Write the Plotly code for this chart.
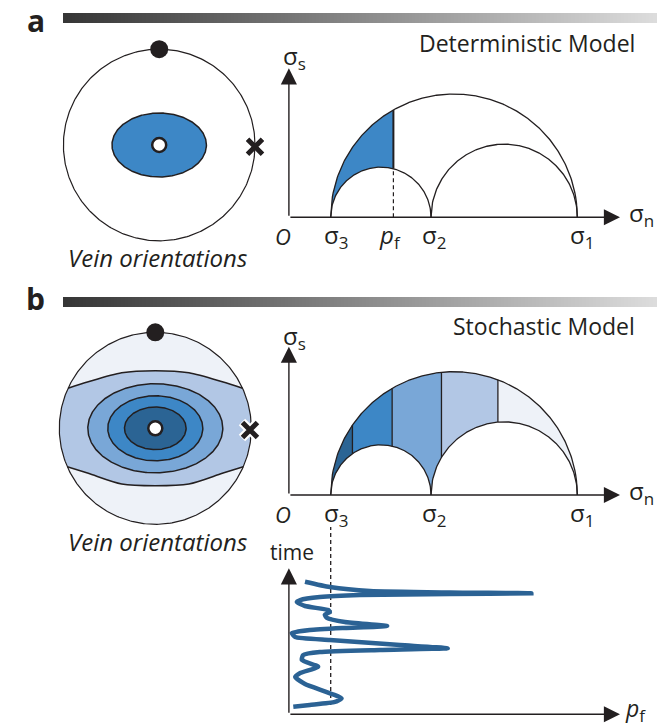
import numpy as np
import plotly.graph_objects as go

W, H = 657, 726
INK = "#231f20"
FONT = "Open Sans"

# ---------------- data ----------------
# principal stresses (arbitrary stress units) and deterministic fluid pressure
SIGMA3, SIGMA2, SIGMA1 = 1.0, 3.4, 6.9
PF_DET = 2.5
# stochastic model: pf bins on the Mohr diagram and their colours
PF_BIN_EDGES = [1.0, 1.52, 2.47, 3.65, 5.0, 6.9]
PF_BIN_COLORS = ["#2b6494", "#3d87c6", "#79a7d7", "#b2c7e5", "#eef2f8"]
# fluid-pressure history (pf in stress units, time in arbitrary units)
PF_SERIES = [0.385, 0.98, 1.94, 3.85, 5.80, 3.85, 1.70, 0.74, 0.27, 0.19, 0.385, 0.94,
             0.98, 0.86, 0.91, 1.34, 2.35, 1.34, 0.50, 0.07, 0.15, 0.98, 2.66, 3.80,
             2.18, 0.74, 0.34, 0.31, 0.70, 0.27, 0.15, 0.385, 1.26, 1.10, 0.50, 0.105]
TIME_SERIES = [10.2, 9.79, 9.48, 9.37, 9.31, 9.25, 9.18, 9.02, 8.79, 8.64, 8.33, 8.02,
               7.87, 7.65, 7.42, 7.10, 6.79, 6.64, 6.48, 6.25, 5.95, 5.72, 5.33, 5.08,
               4.95, 4.79, 4.56, 4.18, 3.66, 3.18, 2.87, 2.33, 1.23, 0.95, 0.72, 0.58]
# stereonets (unit circle coordinates)
ELLIPSE_A = dict(semi_x=0.493, semi_y=0.334, color="#3d87c6")
ELLIPSES_B_SEMI_X = [0.703, 0.495, 0.321]
ELLIPSES_B_SEMI_Y = [0.464, 0.339, 0.222]
ELLIPSES_B_COLORS = ["#79a7d7", "#3d87c6", "#2b6494"]
BAND_X = [-0.698, -0.35, 0.0, 0.35, 0.698]
BAND_TOP_Y = [0.417, 0.485, 0.579, 0.600, 0.579, 0.485, 0.417]   # first/last on circle rim
BAND_BOT_Y = [-0.400, -0.469, -0.580, -0.598, -0.580, -0.469, -0.400]
BAND_COLOR, CAP_COLOR = "#b2c7e5", "#eef2f8"

# ---------------- layout helpers (pixel geometry) ----------------
def dom_x(a, b):
    return [a / W, b / W]

def dom_y(top, bottom):
    return [1 - bottom / H, 1 - top / H]

K = 41.8          # px per stress unit
X0 = 288.9        # px of stress origin
XR = [(270 - X0) / K, (657 - X0) / K]
KT = 13.0         # px per time unit

fig = go.Figure()
layout_axes = {}

def add_axes(n, xd, yd, xr, yr):
    xs = "xaxis" if n == 1 else f"xaxis{n}"
    ys = "yaxis" if n == 1 else f"yaxis{n}"
    layout_axes[xs] = dict(domain=xd, range=xr, visible=False, fixedrange=True,
                           anchor=f"y{'' if n == 1 else n}")
    layout_axes[ys] = dict(domain=yd, range=yr, visible=False, fixedrange=True,
                           anchor=f"x{'' if n == 1 else n}")

# stereonet a / b
add_axes(1, dom_x(159.2 - 119.75, 159.2 + 119.75), dom_y(145 - 119.75, 145 + 119.75), [-1.25, 1.25], [-1.25, 1.25])
add_axes(2, dom_x(155.3 - 120, 155.3 + 120), dom_y(428.3 - 120, 428.3 + 120), [-1.25, 1.25], [-1.25, 1.25])
# Mohr a / b
YA0, YB0 = 217.3, 495.0
add_axes(3, dom_x(270, 657), dom_y(40, 262), XR, [(YA0 - 262) / K, (YA0 - 40) / K])
add_axes(4, dom_x(270, 657), dom_y(318, 540), XR, [(YB0 - 540) / K, (YB0 - 318) / K])
# time plot
YT0 = 714.3
add_axes(5, dom_x(270, 657), dom_y(515, 726), XR, [(YT0 - 726) / KT, (YT0 - 515) / KT])
# gradient bars
add_axes(6, dom_x(63, 657), dom_y(13, 23), [-0.5, 99.5], [-0.5, 0.5])
add_axes(7, dom_x(63, 657), dom_y(297, 307), [-0.5, 99.5], [-0.5, 0.5])

# ---------------- gradient bars ----------------
for n in (6, 7):
    fig.add_trace(go.Heatmap(z=[list(range(100))], colorscale=[[0, "#363636"], [1, "#dcdcdc"]],
                             showscale=False, zsmooth="best", hoverinfo="skip",
                             xaxis=f"x{n}", yaxis=f"y{n}"))

# ---------------- stereonets ----------------
th = np.linspace(0, 2 * np.pi, 361)
def ell(sx, sy):
    return sx * np.cos(th), sy * np.sin(th)

# a
fig.add_trace(go.Scatter(x=np.cos(th), y=np.sin(th), mode="lines", line=dict(color=INK, width=1.2),
                         fill="toself", fillcolor="white", xaxis="x", yaxis="y"))
ex, ey = ell(ELLIPSE_A["semi_x"], ELLIPSE_A["semi_y"])
fig.add_trace(go.Scatter(x=ex, y=ey, mode="lines", fill="toself", fillcolor=ELLIPSE_A["color"],
                         line=dict(color=INK, width=1.5), xaxis="x", yaxis="y"))

# b: full disc in band colour, then caps, then ellipses
fig.add_trace(go.Scatter(x=np.cos(th), y=np.sin(th), mode="lines", fill="toself", fillcolor=BAND_COLOR,
                         line=dict(width=0), xaxis="x2", yaxis="y2"))

def rim_x(y, side):
    return side * np.sqrt(1 - y ** 2)

top_x = [rim_x(BAND_TOP_Y[0], -1)] + BAND_X + [rim_x(BAND_TOP_Y[-1], 1)]
bot_x = [rim_x(BAND_BOT_Y[0], -1)] + BAND_X + [rim_x(BAND_BOT_Y[-1], 1)]
# top cap
a0 = np.arcsin(BAND_TOP_Y[-1])
arc = np.linspace(a0, np.pi - a0, 120)
cap_x = list(top_x) + list(np.cos(arc))
cap_y = list(BAND_TOP_Y) + list(np.sin(arc))
fig.add_trace(go.Scatter(x=cap_x, y=cap_y, mode="lines", fill="toself", fillcolor=CAP_COLOR,
                         line=dict(width=0, shape="spline", smoothing=0.8), xaxis="x2", yaxis="y2"))
# bottom cap
a1 = np.arcsin(BAND_BOT_Y[-1])
arc = np.linspace(a1, -np.pi - a1, 120)
cap_x = list(bot_x) + list(np.cos(arc))
cap_y = list(BAND_BOT_Y) + list(np.sin(arc))
fig.add_trace(go.Scatter(x=cap_x, y=cap_y, mode="lines", fill="toself", fillcolor=CAP_COLOR,
                         line=dict(width=0, shape="spline", smoothing=0.8), xaxis="x2", yaxis="y2"))
for xs_, ys_ in ((top_x, BAND_TOP_Y), (bot_x, BAND_BOT_Y)):
    fig.add_trace(go.Scatter(x=xs_, y=ys_, mode="lines", line=dict(color=INK, width=1.5, shape="spline", smoothing=0.8),
                             xaxis="x2", yaxis="y2"))
for sx, sy, c in zip(ELLIPSES_B_SEMI_X, ELLIPSES_B_SEMI_Y, ELLIPSES_B_COLORS):
    ex, ey = ell(sx, sy)
    fig.add_trace(go.Scatter(x=ex, y=ey, mode="lines", fill="toself", fillcolor=c,
                             line=dict(color=INK, width=1.5), xaxis="x2", yaxis="y2"))
fig.add_trace(go.Scatter(x=np.cos(th), y=np.sin(th), mode="lines", line=dict(color=INK, width=1.2),
                         xaxis="x2", yaxis="y2"))

# markers on stereonets
for xa, ya, xpos, halo in (("x", "y", 1.0, False), ("x2", "y2", 0.986, True)):
    fig.add_trace(go.Scatter(x=[0], y=[1], mode="markers", marker=dict(size=18, color=INK),
                             xaxis=xa, yaxis=ya))
    fig.add_trace(go.Scatter(x=[0], y=[0], mode="markers",
                             marker=dict(size=14, color="white", line=dict(color=INK, width=2.5)),
                             xaxis=xa, yaxis=ya))
    if halo:
        fig.add_trace(go.Scatter(x=[xpos], y=[-0.018], mode="markers",
                                 marker=dict(symbol="x-thin", size=16, line=dict(color="white", width=9)),
                                 xaxis=xa, yaxis=ya))
    fig.add_trace(go.Scatter(x=[xpos], y=[-0.018], mode="markers",
                             marker=dict(symbol="x-thin", size=15, line=dict(color=INK, width=5)),
                             xaxis=xa, yaxis=ya))

# ---------------- Mohr diagrams ----------------
def circ_y(x, lo, hi):
    c, r = (lo + hi) / 2, (hi - lo) / 2
    return np.sqrt(np.clip(r ** 2 - (x - c) ** 2, 0, None))

def upper(x):
    return circ_y(x, SIGMA3, SIGMA1)

def lower(x):
    x = np.asarray(x, dtype=float)
    return np.where(x <= SIGMA2, circ_y(x, SIGMA3, SIGMA2), circ_y(x, SIGMA2, SIGMA1))

def region(xa, xb):
    xs = np.linspace(xa, xb, 200)
    px = np.concatenate([xs, xs[::-1]])
    py = np.concatenate([upper(xs), lower(xs[::-1])])
    return px, py

def circles(xa, ya):
    for lo, hi in ((SIGMA3, SIGMA1), (SIGMA3, SIGMA2), (SIGMA2, SIGMA1)):
        xs = np.linspace(lo, hi, 300)
        fig.add_trace(go.Scatter(x=xs, y=circ_y(xs, lo, hi), mode="lines",
                                 line=dict(color=INK, width=1.3), xaxis=xa, yaxis=ya))

# a
px_, py_ = region(SIGMA3, PF_DET)
fig.add_trace(go.Scatter(x=px_, y=py_, mode="lines", fill="toself", fillcolor="#3d87c6",
                         line=dict(width=0), xaxis="x3", yaxis="y3"))
circles("x3", "y3")
fig.add_trace(go.Scatter(x=[PF_DET, PF_DET], y=[float(lower([PF_DET])[0]), float(upper(PF_DET))], mode="lines",
                         line=dict(color=INK, width=2), xaxis="x3", yaxis="y3"))
fig.add_trace(go.Scatter(x=[PF_DET, PF_DET], y=[0, float(lower([PF_DET])[0])], mode="lines",
                         line=dict(color=INK, width=1.2, dash="4px,3px"), xaxis="x3", yaxis="y3"))
# b
for i, c in enumerate(PF_BIN_COLORS):
    px_, py_ = region(PF_BIN_EDGES[i], PF_BIN_EDGES[i + 1])
    fig.add_trace(go.Scatter(x=px_, y=py_, mode="lines", fill="toself", fillcolor=c,
                             line=dict(width=0), xaxis="x4", yaxis="y4"))
circles("x4", "y4")
for e in PF_BIN_EDGES[1:-1]:
    fig.add_trace(go.Scatter(x=[e, e], y=[float(lower([e])[0]), float(upper(e))], mode="lines",
                             line=dict(color=INK, width=1.3), xaxis="x4", yaxis="y4"))

# ---------------- pf time series ----------------
fig.add_trace(go.Scatter(x=[SIGMA3, SIGMA3], y=[(YT0 - 705) / KT, (YT0 - 527) / KT], mode="lines",
                         line=dict(color=INK, width=1.3, dash="4px,3px"), xaxis="x5", yaxis="y5"))
fig.add_trace(go.Scatter(x=PF_SERIES, y=TIME_SERIES, mode="lines",
                         line=dict(color="#2b6294", width=4.5, shape="spline", smoothing=0.5),
                         xaxis="x5", yaxis="y5"))

# ---------------- axes arrows & labels ----------------
ann = []
def arrow(xr, yr, x, y):
    ann.append(dict(x=x, y=y, ax=0, ay=0, xref=xr, yref=yr, axref=xr, ayref=yr, text="",
                    showarrow=True, arrowhead=2, arrowsize=2.3, arrowwidth=1.4, arrowcolor=INK))

XTIP = (620 - X0) / K
arrow("x3", "y3", XTIP, 0); arrow("x3", "y3", 0, (YA0 - 68.3) / K)
arrow("x4", "y4", XTIP, 0); arrow("x4", "y4", 0, (YB0 - 346.7) / K)
arrow("x5", "y5", XTIP, 0); arrow("x5", "y5", 0, (YT0 - 568.3) / KT)

SUB = "<sub><span style='font-size:17px'>{}</span></sub>"

def text(t, xr, yr, x, y, size=24, xs=0, ys=0, xa="center", ya="middle"):
    ann.append(dict(text=t, xref=xr, yref=yr, x=x, y=y, xshift=xs, yshift=ys, showarrow=False,
                    xanchor=xa, yanchor=ya, font=dict(family=FONT, size=size, color=INK)))

for xr, yr, y0 in (("x3", "y3", YA0), ("x4", "y4", YB0)):
    text("<i>O</i>", xr, yr, 0, 0, xs=-6, ys=-19, size=22)
    text("σ" + SUB.format("3"), xr, yr, SIGMA3, 0, xs=5, ys=-19)
    text("σ" + SUB.format("2"), xr, yr, SIGMA2, 0, xs=3, ys=-19)
    text("σ" + SUB.format("1"), xr, yr, SIGMA1, 0, xs=5, ys=-19)
    text("σ" + SUB.format("n"), xr, yr, XTIP, 0, xs=21, ys=3)
    text("σ" + SUB.format("s"), xr, yr, 0, 0, xs=6, ys=y0 - (57 if yr == "y3" else 337))
text("<i>p</i>" + SUB.format("f"), "x3", "y3", PF_DET, 0, xs=-3, ys=-19)
text("time", "x5", "y5", 0, 0, size=21, xs=3, ys=YT0 - 552)
text("<i>p</i>" + SUB.format("f"), "x5", "y5", XTIP, 0, xs=15, ys=5, size=23)

def ptext(t, px, py, size, xa="center", bold=False):
    ann.append(dict(text=f"<b>{t}</b>" if bold else t, xref="paper", yref="paper", x=px / W, y=1 - py / H,
                    showarrow=False, xanchor=xa, yanchor="middle",
                    font=dict(family=FONT, size=size, color=INK)))

ptext("a", 35.5, 20, 30, bold=True)
ptext("b", 35.5, 298, 30, bold=True)
ptext("Deterministic Model", 637, 43, 23, xa="right")
ptext("Stochastic Model", 637, 326, 23, xa="right")
ptext("<i>Vein orientations</i>", 157, 258, 24)
ptext("<i>Vein orientations</i>", 157, 541, 24)

fig.update_layout(width=W, height=H, margin=dict(l=0, r=0, t=0, b=0), showlegend=False,
                  paper_bgcolor="white", plot_bgcolor="white", annotations=ann, **layout_axes)
fig.write_html("out.html", config={"displayModeBar": False, "staticPlot": True},
               post_script="document.body.style.margin='0';document.body.style.padding='0';")
